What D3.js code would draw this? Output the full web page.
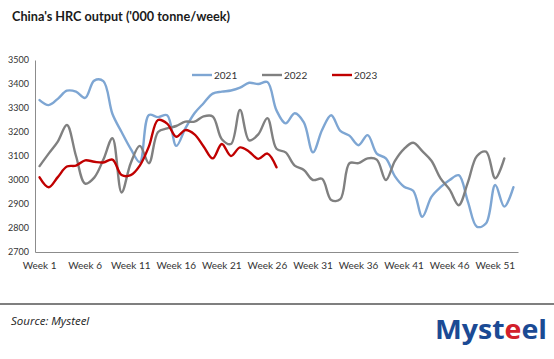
<!DOCTYPE html>
<html><head><meta charset="utf-8">
<script src="https://cdn.jsdelivr.net/npm/d3@7"></script>
<style>
html,body{margin:0;padding:0;background:#fff;}
svg{display:block;font-family:Lato,"Open Sans",sans-serif;}
</style></head>
<body><svg id="chart" width="554" height="359"></svg>
<script>
const weeks = d3.range(1, 54).map(w => "Week " + w);
const tickLabels = ["Week 1","Week 6","Week 11","Week 16","Week 21","Week 26","Week 31","Week 36","Week 41","Week 46","Week 51"];
const yTicks = [2700,2800,2900,3000,3100,3200,3300,3400,3500];
const seriesNames = ["2021","2022","2023"];
const seriesColors = ["#7ea6d3","#808080","#c00000"];
const v2021 = [3333,3312,3338,3372,3368,3342,3414,3412,3275,3200,3130,3075,3271,3262,3270,3142,3215,3278,3320,3360,3368,3373,3385,3405,3400,3408,3290,3236,3278,3240,3115,3208,3270,3205,3185,3145,3187,3110,3090,3015,2972,2955,2847,2930,2970,3000,3020,2910,2805,2820,2979,2889,2970];
const v2022 = [3058,3110,3160,3229,3100,2985,3010,3085,3174,2948,3070,3142,3070,3200,3215,3225,3243,3243,3265,3265,3170,3150,3292,3165,3190,3258,3130,3115,3060,3042,3000,3005,2917,2920,3070,3070,3090,3085,3000,3080,3130,3155,3120,3080,3007,2960,2895,2990,3100,3118,3007,3090];
const v2023 = [3011,2970,3012,3056,3060,3082,3076,3073,3085,3021,3020,3060,3140,3250,3235,3180,3208,3190,3140,3090,3150,3100,3136,3118,3088,3110,3053];
const seriesValues = [v2021, v2022, v2023];

const svg = d3.select("#chart");
const x = d3.scaleBand().domain(weeks).range([35, 518]);
const y = d3.scaleLinear().domain([2700, 3500]).range([252, 60]);
const cx = w => x(w) + x.bandwidth() / 2;

// title
svg.append("text").attr("x", 12).attr("y", 21)
  .attr("font-size", 14).attr("font-weight", 700).attr("fill", "#1a1a1a")
  .attr("textLength", 218).attr("lengthAdjust", "spacingAndGlyphs")
  .text("China's HRC output ('000 tonne/week)");

// axes
const yAxis = svg.append("g").attr("transform", "translate(35,0)")
  .call(d3.axisLeft(y).tickValues(yTicks).tickSize(0).tickPadding(6).tickFormat(d3.format("d")));
yAxis.select(".domain").attr("stroke", "#8c8c8c").attr("stroke-width", 1);
yAxis.selectAll("text").attr("font-size", 9).attr("fill", "#333").attr("font-family", "Lato,sans-serif");

const xAxis = svg.append("g").attr("transform", "translate(0,252)")
  .call(d3.axisBottom(x).tickValues(tickLabels).tickSize(0).tickPadding(10));
xAxis.select(".domain").attr("stroke", "#8c8c8c").attr("stroke-width", 1);
xAxis.selectAll("text").attr("font-size", 10).attr("fill", "#333").attr("font-family", "Lato,sans-serif");

// lines
const line = d3.line().x((d, i) => cx(weeks[i])).y(d => y(d)).curve(d3.curveCatmullRom.alpha(0.5));
seriesValues.forEach((vals, k) => {
  svg.append("path").datum(vals)
    .attr("fill", "none").attr("stroke", seriesColors[k]).attr("stroke-width", 2.4)
    .attr("stroke-linejoin", "round").attr("stroke-linecap", "round")
    .attr("d", line);
});

// legend
const legX = [192, 262, 332];
seriesNames.forEach((n, k) => {
  const g = svg.append("g").attr("transform", `translate(${legX[k]},75)`);
  g.append("line").attr("x1", 0).attr("x2", 20).attr("y1", 0).attr("y2", 0)
    .attr("stroke", seriesColors[k]).attr("stroke-width", 2.4);
  g.append("text").attr("x", 22).attr("y", 3.5).attr("font-size", 10).attr("fill", "#333").text(n);
});

// footer
svg.append("line").attr("x1", 0).attr("x2", 554).attr("y1", 304).attr("y2", 304)
  .attr("stroke", "#555").attr("stroke-width", 1.5);
svg.append("text").attr("x", 11).attr("y", 325).attr("font-size", 11.5)
  .attr("font-style", "italic").attr("fill", "#222").attr("font-family", "'Open Sans',sans-serif")
  .text("Source: Mysteel");

const logo = svg.append("text").attr("x", 435).attr("y", 339)
  .attr("font-size", 27).attr("font-weight", 700).attr("font-family", "'Open Sans',sans-serif")
  .attr("fill", "#1b4a94").attr("textLength", 112).attr("lengthAdjust", "spacingAndGlyphs");
logo.append("tspan").text("Myst");
logo.append("tspan").attr("fill", "#d2202b").text("e");
logo.append("tspan").text("el");
</script>
</body></html>
